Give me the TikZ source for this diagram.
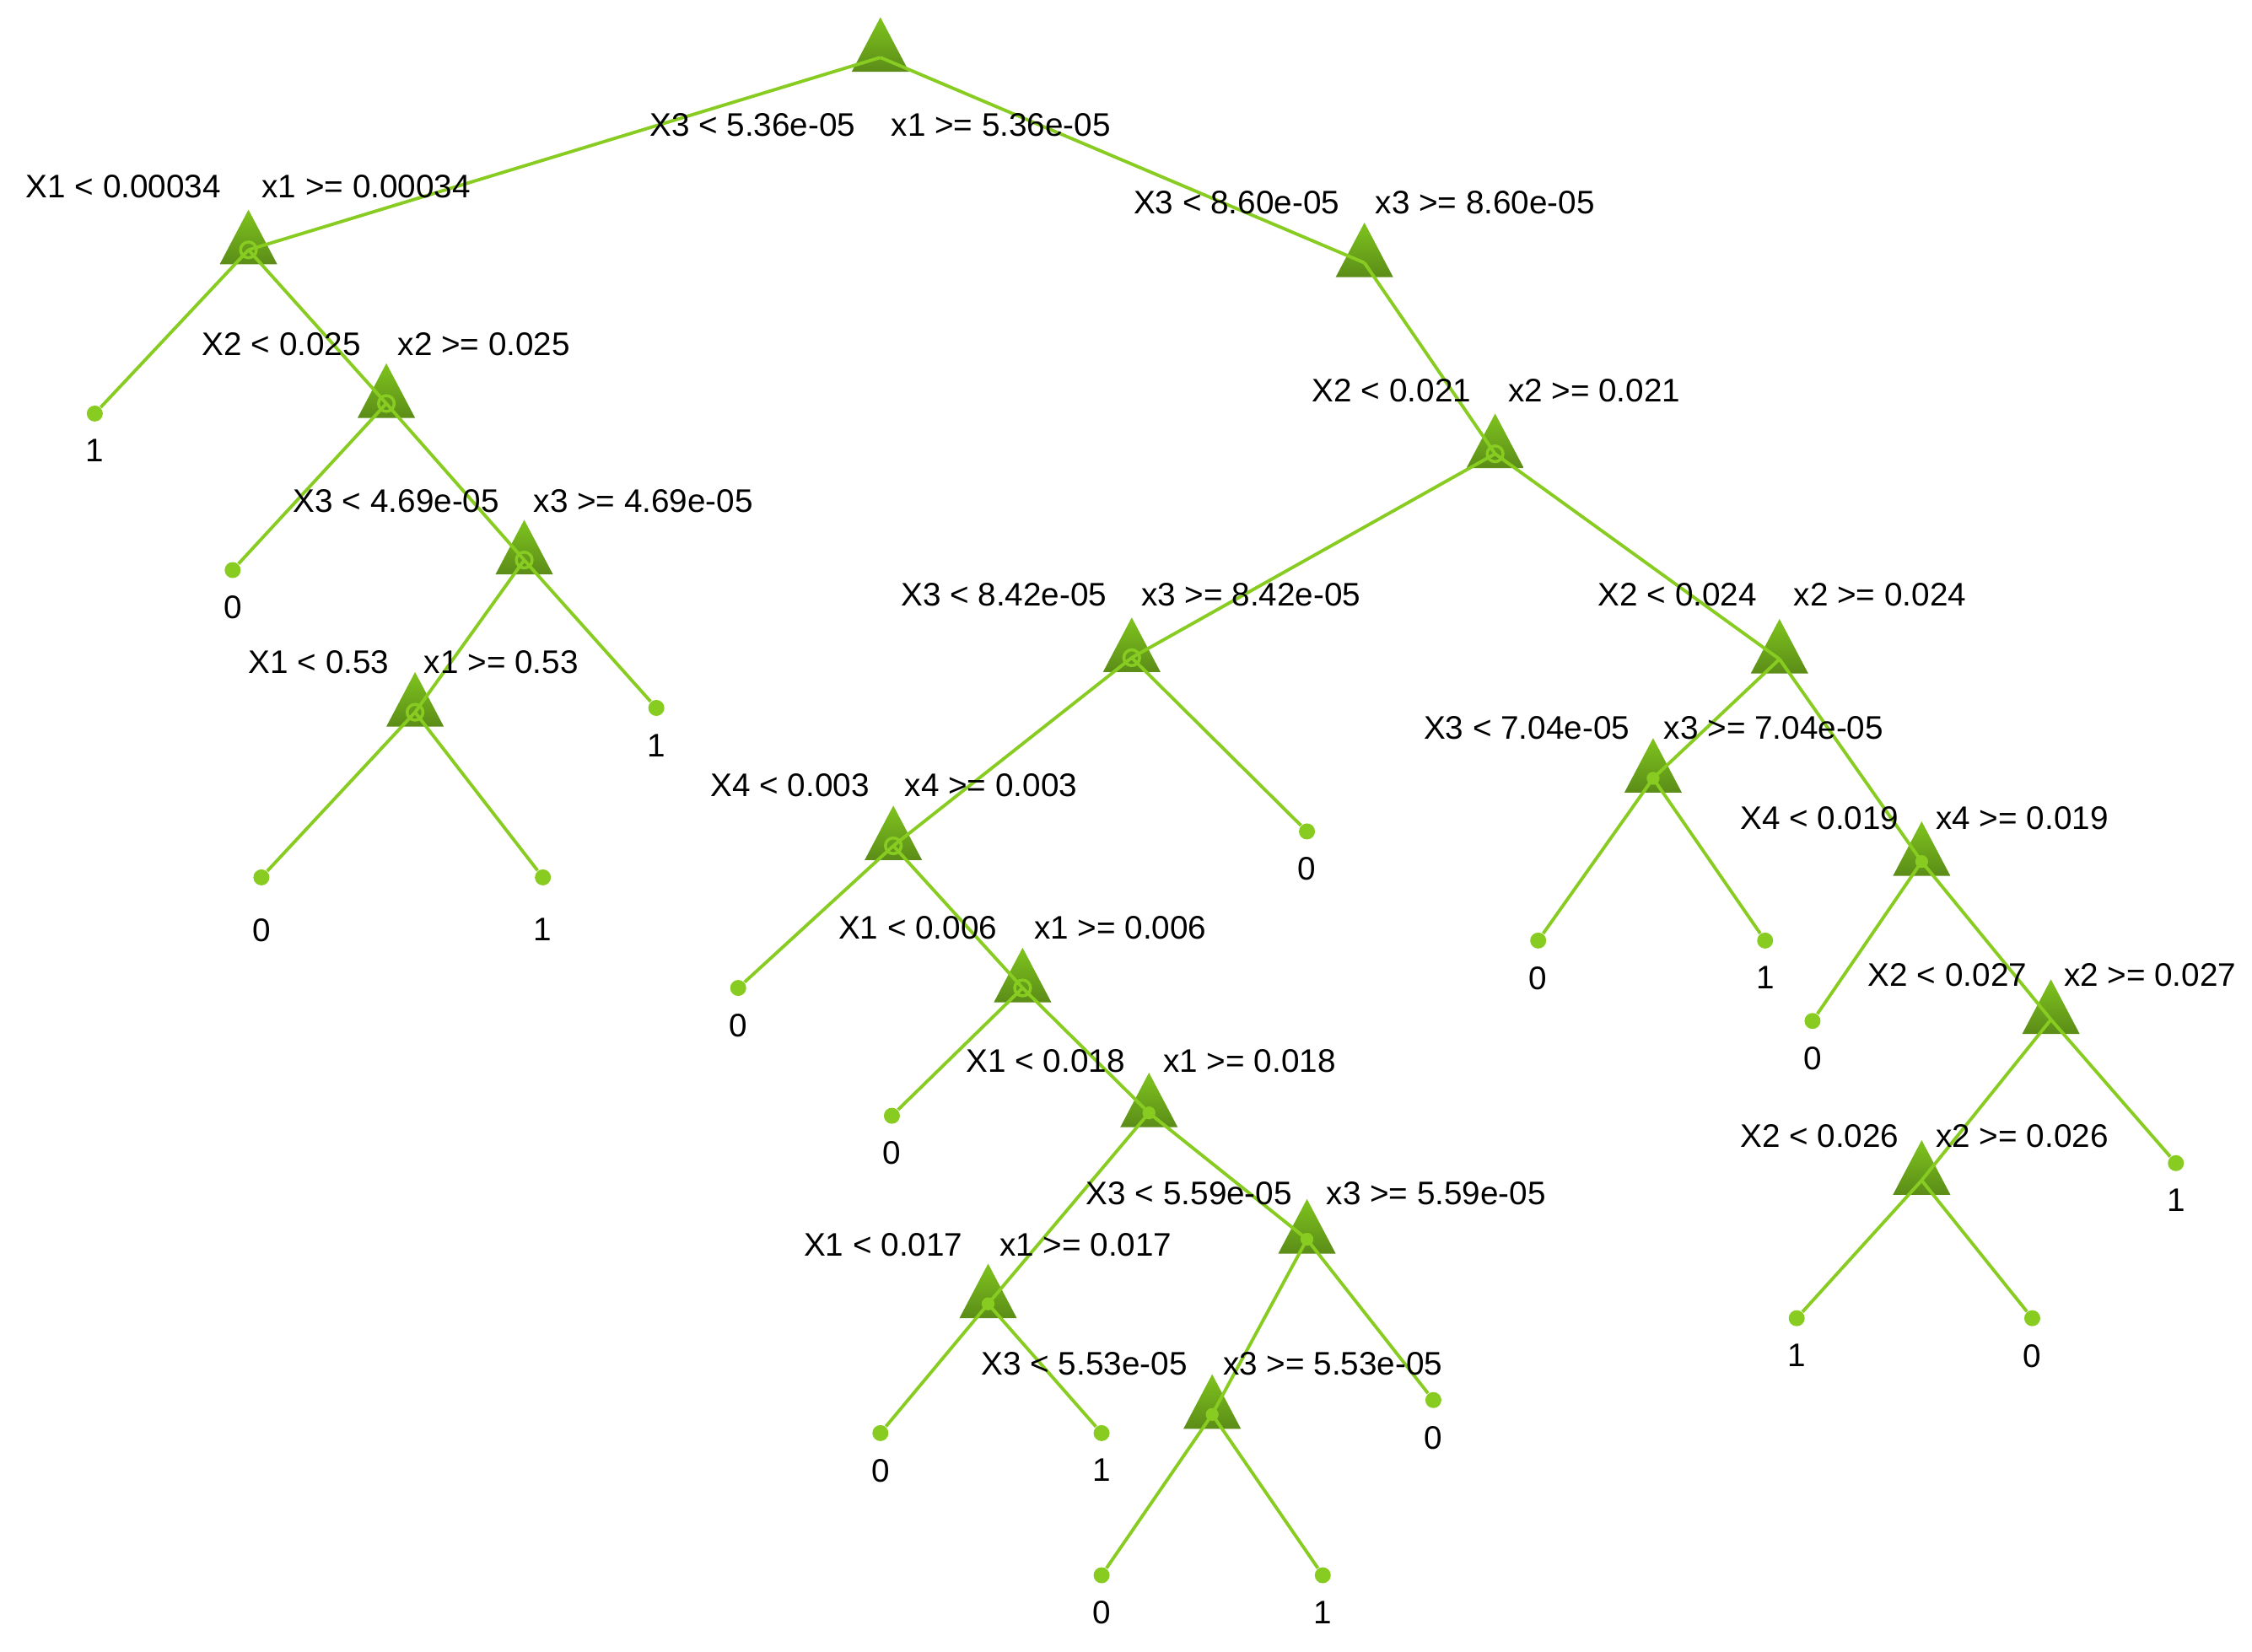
\documentclass[tikz,border=0pt]{standalone}
\usepackage{fontspec}
\setmainfont{Liberation Sans}
\usetikzlibrary{positioning}
\definecolor{edgegreen}{HTML}{88CC22}
\definecolor{tritop}{HTML}{7FC41E}
\definecolor{tribot}{HTML}{5B8C18}
\begin{document}
\begin{tikzpicture}[x=0.01703cm,y=-0.01703cm,
		edge/.style={draw=edgegreen,line width=1.1pt},
		leaf/.style={circle,fill=edgegreen,inner sep=0pt,minimum size=0.19cm},
		val/.style={font=\fontsize{11}{13}\selectfont,inner sep=0pt},
		cond/.style={font=\fontsize{11}{13}\selectfont,inner sep=0pt},
		ring/.style={draw=edgegreen,line width=1pt,radius=5.5},
		]
		\useasboundingbox (0,0) rectangle (1568,1150);

		%% split nodes
		\coordinate (r) at (613,40);
		\coordinate (a) at (173,174);
		\coordinate (b) at (269,281);
		\coordinate (c) at (365,390);
		\coordinate (d) at (289,496);
		\coordinate (e) at (950,183);
		\coordinate (f) at (1041,316);
		\coordinate (g) at (788,458);
		\coordinate (h) at (622,589);
		\coordinate (i) at (712,688);
		\coordinate (j) at (800,775);
		\coordinate (k) at (688,908);
		\coordinate (l) at (910,863);
		\coordinate (m) at (844,985);
		\coordinate (n) at (1239,459);
		\coordinate (o) at (1151,542);
		\coordinate (p) at (1338,600);
		\coordinate (q) at (1428,710);
		\coordinate (s) at (1338,822);

		%% triangles
		\foreach \t in {r,a,b,c,d,e,f,g,h,i,j,k,l,m,n,o,p,q,s}{
			\shade[top color=tritop,bottom color=tribot]
				([shift={(-20,10)}]\t) -- ([shift={(20,10)}]\t) -- ([shift={(0,-28)}]\t) -- cycle;
		}

		%% leaves
		\node[leaf,label={[val,label distance=0.2cm]below:1}] (a1) at (66,288) {};
		\node[leaf,label={[val,label distance=0.2cm]below:0}] (b1) at (162,397) {};
		\node[leaf,label={[val,label distance=0.2cm]below:1}] (c2) at (457,493) {};
		\node[leaf,label={[val,label distance=0.38cm]below:0}] (d1) at (182,611) {};
		\node[leaf,label={[val,label distance=0.38cm]below:1}] (d2) at (378,611) {};
		\node[leaf,label={[val,label distance=0.2cm]below:0}] (g2) at (910,579) {};
		\node[leaf,label={[val,label distance=0.2cm]below:0}] (h1) at (514,688) {};
		\node[leaf,label={[val,label distance=0.2cm]below:0}] (i1) at (621,777) {};
		\node[leaf,label={[val,label distance=0.2cm]below:0}] (k1) at (613,998) {};
		\node[leaf,label={[val,label distance=0.2cm]below:1}] (k2) at (767,998) {};
		\node[leaf,label={[val,label distance=0.2cm]below:0}] (l2) at (998,975) {};
		\node[leaf,label={[val,label distance=0.2cm]below:0}] (m1) at (767,1097) {};
		\node[leaf,label={[val,label distance=0.2cm]below:1}] (m2) at (921,1097) {};
		\node[leaf,label={[val,label distance=0.2cm]below:0}] (o1) at (1071,655) {};
		\node[leaf,label={[val,label distance=0.2cm]below:1}] (o2) at (1229,655) {};
		\node[leaf,label={[val,label distance=0.2cm]below:0}] (p1) at (1262,711) {};
		\node[leaf,label={[val,label distance=0.2cm]below:1}] (q2) at (1515,810) {};
		\node[leaf,label={[val,label distance=0.2cm]below:1}] (s1) at (1251,918) {};
		\node[leaf,label={[val,label distance=0.2cm]below:0}] (s2) at (1415,918) {};

		%% connectors
		\foreach \u/\v in {r/a,r/e,a/a1,a/b,b/b1,b/c,c/d,c/c2,d/d1,d/d2,e/f,f/g,f/n,
			g/h,g/g2,h/h1,h/i,i/i1,i/j,j/k,j/l,k/k1,k/k2,l/m,l/l2,m/m1,m/m2,
			n/o,n/p,o/o1,o/o2,p/p1,p/q,q/s,q/q2,s/s1,s/s2}{
			\draw[edge] (\u) -- (\v);
		}

		%% junction marks
		\foreach \t in {a,b,c,d,f,g,h,i}{
			\draw[ring] (\t) circle;
		}
		\foreach \t in {j,k,l,m,o,p}{
			\fill[edgegreen] (\t) circle (4.5);
		}

		%% split conditions
		\node[cond] (rl) at (524,87) {X3 < 5.36e-05};
		\node[cond] (rr) at (697,87) {x1 >= 5.36e-05};
		\node[cond] (al) at (86,130) {X1 < 0.00034};
		\node[cond] (ar) at (255,130) {x1 >= 0.00034};
		\node[cond] (bl) at (196,240) {X2 < 0.025};
		\node[cond] (br) at (337,240) {x2 >= 0.025};
		\node[cond] (cl) at (276,349) {X3 < 4.69e-05};
		\node[cond] (cr) at (448,349) {x3 >= 4.69e-05};
		\node[cond] (dl) at (222,461) {X1 < 0.53};
		\node[cond] (dr) at (349,461) {x1 >= 0.53};
		\node[cond] (el) at (861,141) {X3 < 8.60e-05};
		\node[cond] (er) at (1034,141) {x3 >= 8.60e-05};
		\node[cond] (fl) at (969,272) {X2 < 0.021};
		\node[cond] (fr) at (1110,272) {x2 >= 0.021};
		\node[cond] (gl) at (699,414) {X3 < 8.42e-05};
		\node[cond] (gr) at (871,414) {x3 >= 8.42e-05};
		\node[cond] (hl) at (550,547) {X4 < 0.003};
		\node[cond] (hr) at (690,547) {x4 >= 0.003};
		\node[cond] (il) at (639,646) {X1 < 0.006};
		\node[cond] (ir) at (780,646) {x1 >= 0.006};
		\node[cond] (jl) at (728,739) {X1 < 0.018};
		\node[cond] (jr) at (870,739) {x1 >= 0.018};
		\node[cond] (kl) at (615,867) {X1 < 0.017};
		\node[cond] (kr) at (756,867) {x1 >= 0.017};
		\node[cond] (ll) at (828,831) {X3 < 5.59e-05};
		\node[cond] (lr) at (1000,831) {x3 >= 5.59e-05};
		\node[cond] (ml) at (755,950) {X3 < 5.53e-05};
		\node[cond] (mr) at (928,950) {x3 >= 5.53e-05};
		\node[cond] (nl) at (1168,414) {X2 < 0.024};
		\node[cond] (nr) at (1309,414) {x2 >= 0.024};
		\node[cond] (ol) at (1063,507) {X3 < 7.04e-05};
		\node[cond] (or) at (1235,507) {x3 >= 7.04e-05};
		\node[cond] (pl) at (1267,570) {X4 < 0.019};
		\node[cond] (pr) at (1408,570) {x4 >= 0.019};
		\node[cond] (ql) at (1356,679) {X2 < 0.027};
		\node[cond] (qr) at (1497,679) {x2 >= 0.027};
		\node[cond] (sl) at (1267,791) {X2 < 0.026};
		\node[cond] (sr) at (1408,791) {x2 >= 0.026};
\end{tikzpicture}
\end{document}
